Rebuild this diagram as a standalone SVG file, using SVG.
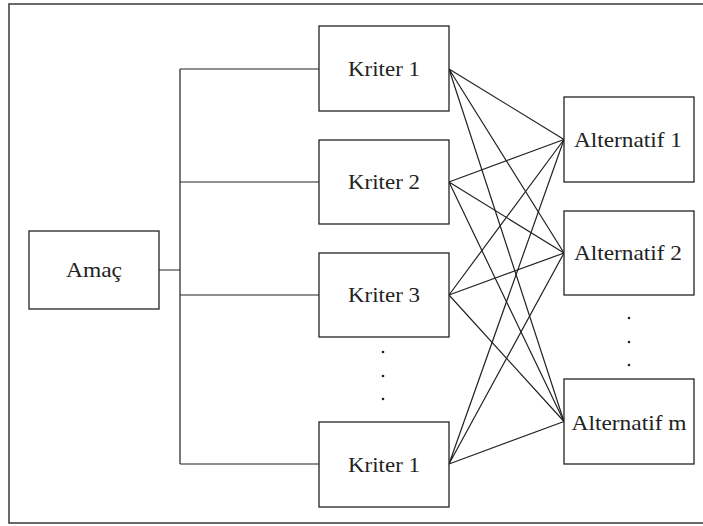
<svg xmlns="http://www.w3.org/2000/svg" width="703" height="526" viewBox="0 0 703 526">
  <style>
    .box { fill: #fff; stroke: #222; stroke-width: 1.3; }
    .lbl { font-family: 'Liberation Serif', 'Times New Roman', Times, 'DejaVu Serif', serif; font-size: 22px; fill: #222; text-anchor: middle; }
    .wire { fill: none; stroke: #222; stroke-width: 1.2; }
    .dot { fill: #222; }
  </style>
  <rect width="703" height="526" fill="#fff"/>
  <!-- outer frame -->
  <rect x="9" y="4" width="700" height="519" fill="none" stroke="#444" stroke-width="1.6"/>

  <g id="connectors" class="wire">
    <!-- goal to criteria bus -->
    <path d="M159 270 H180 M180 69 V464 M180 69 H319 M180 182 H319 M180 295 H319 M180 464 H319"/>
    <!-- criteria to alternatives -->
    <path d="M449 69 L564 139.5 M449 69 L564 253 M449 69 L564 421.5"/>
    <path d="M449 182 L564 139.5 M449 182 L564 253 M449 182 L564 421.5"/>
    <path d="M449 295 L564 139.5 M449 295 L564 253 M449 295 L564 421.5"/>
    <path d="M449 464 L564 139.5 M449 464 L564 253 M449 464 L564 421.5"/>
  </g>

  <g id="amac">
    <rect class="box" x="29" y="231" width="130" height="78"/>
    <text class="lbl" x="94" y="277" textLength="56" lengthAdjust="spacingAndGlyphs">Amaç</text>
  </g>

  <g id="kriter-1">
    <rect class="box" x="319" y="26" width="130" height="85"/>
    <text class="lbl" x="384" y="76" textLength="72" lengthAdjust="spacingAndGlyphs">Kriter 1</text>
  </g>
  <g id="kriter-2">
    <rect class="box" x="319" y="140" width="130" height="84"/>
    <text class="lbl" x="384" y="189" textLength="72" lengthAdjust="spacingAndGlyphs">Kriter 2</text>
  </g>
  <g id="kriter-3">
    <rect class="box" x="319" y="253" width="130" height="84"/>
    <text class="lbl" x="384" y="302" textLength="72" lengthAdjust="spacingAndGlyphs">Kriter 3</text>
  </g>
  <g id="kriter-n">
    <rect class="box" x="319" y="422" width="130" height="85"/>
    <text class="lbl" x="384" y="472" textLength="72" lengthAdjust="spacingAndGlyphs">Kriter 1</text>
  </g>

  <g id="kriter-dots">
    <circle class="dot" cx="383" cy="352" r="1.3"/>
    <circle class="dot" cx="383" cy="376" r="1.3"/>
    <circle class="dot" cx="383" cy="399" r="1.3"/>
  </g>

  <g id="alternatif-1">
    <rect class="box" x="564" y="97" width="130" height="85"/>
    <text class="lbl" x="628" y="147" textLength="108" lengthAdjust="spacingAndGlyphs">Alternatif 1</text>
  </g>
  <g id="alternatif-2">
    <rect class="box" x="564" y="211" width="130" height="84"/>
    <text class="lbl" x="628" y="260" textLength="108" lengthAdjust="spacingAndGlyphs">Alternatif 2</text>
  </g>
  <g id="alternatif-m">
    <rect class="box" x="564" y="379" width="130" height="85"/>
    <text class="lbl" x="629" y="430" textLength="115" lengthAdjust="spacingAndGlyphs">Alternatif m</text>
  </g>

  <g id="alternatif-dots">
    <circle class="dot" cx="629" cy="318" r="1.3"/>
    <circle class="dot" cx="629" cy="342" r="1.3"/>
    <circle class="dot" cx="629" cy="365" r="1.3"/>
  </g>
</svg>
